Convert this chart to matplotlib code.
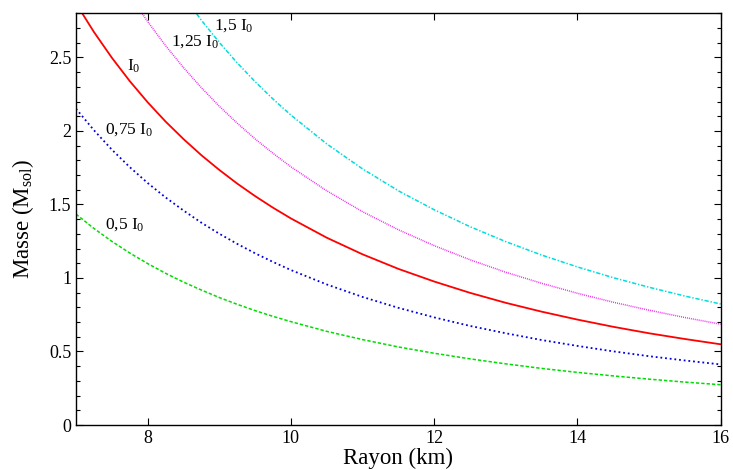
import matplotlib
matplotlib.use("Agg")
import matplotlib.pyplot as plt
from matplotlib.ticker import MultipleLocator, FormatStrFormatter

plt.rcParams['font.family'] = ['Liberation Serif', 'DejaVu Serif']
plt.rcParams['mathtext.fontset'] = 'custom'
plt.rcParams['mathtext.rm'] = 'Liberation Serif'
plt.rcParams['mathtext.it'] = 'Liberation Serif:italic'

rayon = [7.0, 7.25, 7.5, 7.75, 8.0, 8.25, 8.5, 8.75, 9.0, 9.25, 9.5, 9.75,
         10.0, 10.5, 11.0, 11.5, 12.0, 12.5, 13.0, 13.5, 14.0, 14.5, 15.0,
         15.5, 16.0]

m_050 = [1.434, 1.337, 1.249, 1.170, 1.098, 1.032, 0.972, 0.918, 0.867, 0.821,
         0.778, 0.739, 0.703, 0.637, 0.581, 0.531, 0.488, 0.450, 0.416, 0.385,
         0.358, 0.334, 0.312, 0.292, 0.274]
m_075 = [2.151, 2.005, 1.873, 1.754, 1.646, 1.548, 1.459, 1.376, 1.301, 1.232,
         1.168, 1.109, 1.054, 0.956, 0.871, 0.797, 0.732, 0.674, 0.624, 0.578,
         0.538, 0.501, 0.468, 0.439, 0.412]
m_100 = [2.867, 2.673, 2.498, 2.339, 2.195, 2.064, 1.945, 1.835, 1.735, 1.642,
         1.557, 1.478, 1.405, 1.274, 1.161, 1.062, 0.976, 0.899, 0.831, 0.771,
         0.717, 0.668, 0.624, 0.585, 0.549]
m_125 = [3.584, 3.341, 3.122, 2.924, 2.744, 2.580, 2.431, 2.294, 2.168, 2.053,
         1.946, 1.848, 1.756, 1.593, 1.451, 1.328, 1.220, 1.124, 1.039, 0.964,
         0.896, 0.835, 0.781, 0.731, 0.686]
m_150 = [4.301, 4.010, 3.747, 3.509, 3.293, 3.096, 2.917, 2.753, 2.602, 2.463,
         2.335, 2.217, 2.108, 1.912, 1.742, 1.593, 1.464, 1.349, 1.247, 1.156,
         1.075, 1.002, 0.937, 0.877, 0.823]

curve_labels = ["0,5 I$_0$", "0,75 I$_0$", "I$_0$", "1,25 I$_0$", "1,5 I$_0$"]
label_x = [7.40, 7.40, 7.71, 8.33, 8.93]
label_y = [1.36, 2.01, 2.44, 2.61, 2.715]

x_ticks = [8, 10, 12, 14, 16]
y_ticks = [0, 0.5, 1, 1.5, 2, 2.5]

fig = plt.figure(figsize=(7.33, 4.70), dpi=100)
ax = fig.add_axes([0.1037, 0.0957, 0.8795, 0.876])

ax.plot(rayon, m_050, color='#00dd00', lw=1.1, ls=(0, (2.2, 1.3)))
ax.plot(rayon, m_075, color='#0000dd', lw=1.3, ls=(0, (1, 1.6)))
ax.plot(rayon, m_100, color='#ff0000', lw=1.3, ls='-')
ax.plot(rayon, m_125, color='#ee22ee', lw=1.1, ls=(0, (0.6, 0.7)))
ax.plot(rayon, m_150, color='#00dddd', lw=1.1, ls=(0, (2.8, 1.2, 0.9, 1.2)))

for t, x, y in zip(curve_labels, label_x, label_y):
    ax.text(x, y, t, fontsize=12.5, va='center', ha='left')

ax.set_xlim(7, 16)
ax.set_ylim(0, 2.8)
ax.set_xticks(x_ticks)
ax.set_yticks(y_ticks)
ax.yaxis.set_major_formatter(FormatStrFormatter('%g'))
ax.yaxis.set_minor_locator(MultipleLocator(0.1))
ax.tick_params(which='both', direction='in', top=True, right=True, labelsize=13)
ax.tick_params(which='major', length=5, width=0.8)
ax.tick_params(which='minor', length=3, width=0.8)
for s in ax.spines.values():
    s.set_linewidth(1.0)

ax.set_xlabel("Rayon (km)", fontsize=16.5, labelpad=1)
ax.set_ylabel("Masse (M$_{\\mathrm{sol}}$)", fontsize=16.5, labelpad=9)

fig.savefig("out.png", dpi=100)
